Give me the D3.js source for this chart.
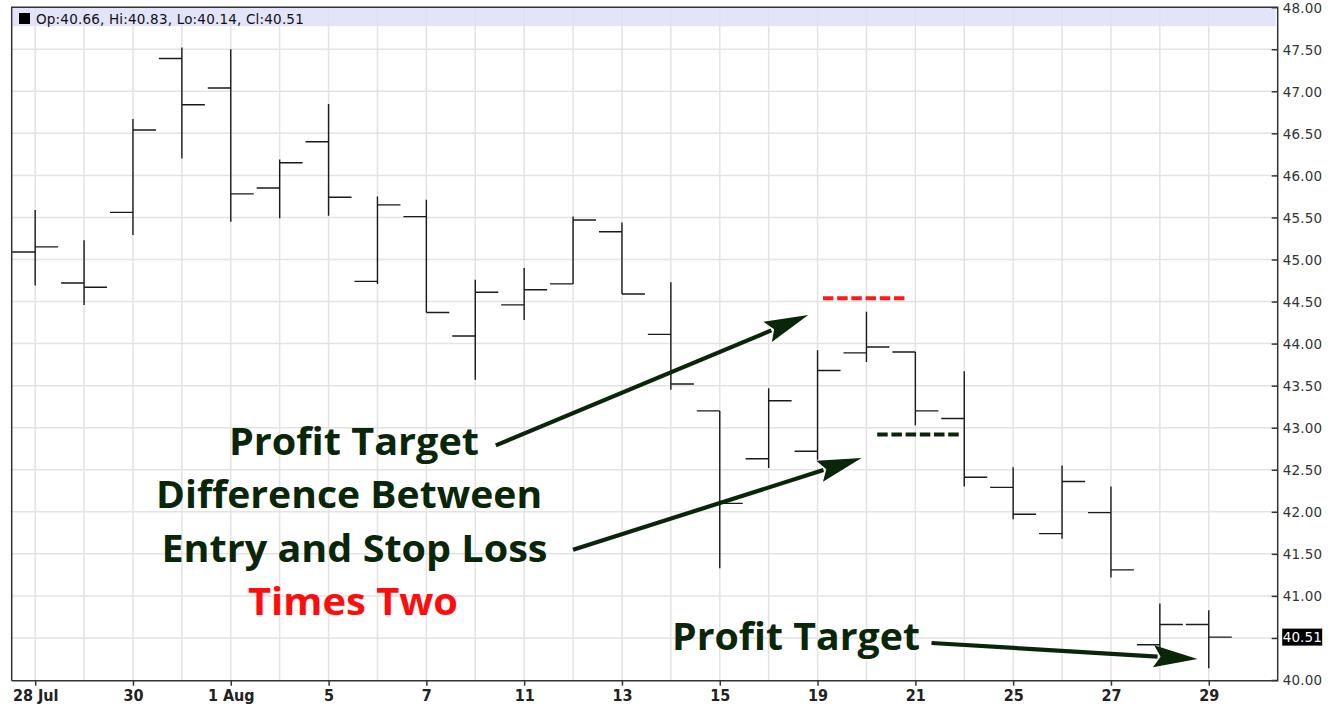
<html>
<head>
<meta charset="utf-8">
<script src="https://d3js.org/d3.v7.min.js"></script>
<style>
  body { margin: 0; background: #fff; }
</style>
</head>
<body>
<svg id="svg" width="1329" height="706"></svg>
<script>
'use strict';

// trading days, 28 Jul .. 29 Aug
const days = ['28 Jul', '29', '30', '31', '1 Aug', '4', '5', '6', '7', '8', '11', '12', '13',
  '14', '15', '18', '19', '20', '21', '22', '25', '26', '27', '28', '29'];
const opens = [45.09, 44.72, 45.56, 47.39, 47.04, 45.85, 46.40, 44.74, 45.51, 44.09, 44.46, 44.71, 45.33,
  44.11, 43.20, 42.63, 42.72, 43.89, 43.90, 43.11, 42.29, 41.74, 41.99, 40.42, 40.66];
const highs = [45.59, 45.23, 46.67, 47.52, 47.50, 46.19, 46.85, 45.75, 45.71, 44.76, 44.90, 45.51, 45.44,
  44.73, 43.20, 43.47, 43.92, 44.38, 43.90, 43.67, 42.53, 42.55, 42.30, 40.91, 40.83];
const lows = [44.69, 44.46, 45.29, 46.20, 45.45, 45.49, 45.52, 44.71, 44.37, 43.57, 44.28, 44.71, 44.59,
  43.45, 41.33, 42.52, 42.62, 43.78, 43.03, 42.30, 41.91, 41.68, 41.22, 40.36, 40.14];
const closes = [45.15, 44.67, 46.54, 46.84, 45.78, 46.15, 45.74, 45.65, 44.37, 44.61, 44.64, 45.47, 44.59,
  43.52, 42.10, 43.32, 43.68, 43.96, 43.20, 42.41, 41.97, 42.36, 41.31, 40.66, 40.51];
const priceTicks = [40, 40.5, 41, 41.5, 42, 42.5, 43, 43.5, 44, 44.5, 45, 45.5, 46, 46.5, 47, 47.5, 48];
const lastPrice = 40.51;

// annotations, in (day index, price)
const dashLevels = [
  {from: 16.11, to: 17.83, price: 44.54, color: '#ff1a1a'},
  {from: 17.22, to: 18.93, price: 42.92, color: '#0a2608'}
];
const arrows = [
  {x1: 9.42, y1: 42.79, x2: 15.81, y2: 44.34},
  {x1: 11.00, y1: 41.55, x2: 16.90, y2: 42.64},
  {x1: 18.33, y1: 40.44, x2: 23.77, y2: 40.25}
];
const notes = [
  {text: 'Profit Target', x: 6.52, y: 42.675, w: 250, color: '#0a2608'},
  {text: 'Difference Between', x: 6.42, y: 42.045, w: 386, color: '#0a2608'},
  {text: 'Entry and Stop Loss', x: 6.53, y: 41.403, w: 386, color: '#0a2608'},
  {text: 'Times Two', x: 6.50, y: 40.773, w: 210, color: '#ff0d0d'},
  {text: 'Profit Target', x: 15.56, y: 40.357, w: 248, color: '#0a2608'}
];

const plotLeft = 11.7, plotRight = 1277.7, plotTop = 7.2, plotBottom = 680.7;
const svg = d3.select('#svg');

const x = d3.scaleLinear().domain([-0.48, 25.41]).range([plotLeft, plotRight]);
const y = d3.scaleLinear().domain([40, 48]).range([680, 7.2]);
const idx = d3.range(days.length);

// grid
const grid = svg.append('g').attr('stroke', '#e3e3e3').attr('stroke-width', 1.5);
grid.selectAll('line.h').data(priceTicks.slice(1, -1)).join('line').attr('class', 'h')
  .attr('x1', plotLeft).attr('x2', plotRight)
  .attr('y1', d => y(d)).attr('y2', d => y(d));
grid.selectAll('line.v').data(idx).join('line').attr('class', 'v')
  .attr('x1', d => x(d)).attr('x2', d => x(d))
  .attr('y1', plotTop).attr('y2', plotBottom);

// header band
svg.append('rect').attr('x', plotLeft + 1).attr('y', plotTop + 0.5)
  .attr('width', plotRight - plotLeft - 3).attr('height', 18.5)
  .attr('fill', '#dedef9').attr('opacity', 0.85);
svg.append('rect').attr('x', 19).attr('y', 13).attr('width', 11).attr('height', 11).attr('fill', '#000');
svg.append('text').attr('x', 36).attr('y', 23.5)
  .attr('font-family', 'DejaVu Sans').attr('font-size', 13.5).attr('letter-spacing', 0.2)
  .attr('fill', '#111')
  .text(`Op:${opens[24].toFixed(2)}, Hi:${highs[24].toFixed(2)}, Lo:${lows[24].toFixed(2)}, Cl:${closes[24].toFixed(2)}`);

// frame
svg.append('path')
  .attr('d', `M${plotLeft},${plotBottom}V${plotTop}H${plotRight}V${plotBottom}H${plotLeft}`)
  .attr('fill', 'none').attr('stroke', '#333').attr('stroke-width', 1.5);

// right axis
const yAxis = d3.axisRight(y).tickValues(priceTicks).tickSize(0).tickPadding(5)
  .tickFormat(d => d.toFixed(2));
const ya = svg.append('g').attr('transform', `translate(${plotRight},0)`).call(yAxis);
ya.select('.domain').remove();
ya.selectAll('text').attr('font-family', 'DejaVu Sans').attr('font-size', 13.5)
  .attr('letter-spacing', 0.2).attr('fill', '#333').attr('dy', '0.36em');
ya.selectAll('.tick').append('line').attr('x1', -6).attr('x2', 0)
  .attr('stroke', '#333').attr('stroke-width', 1.5);

// last price marker
const lp = svg.append('g').attr('transform', `translate(${plotRight + 4.5},${y(lastPrice)})`);
lp.append('rect').attr('x', 0).attr('y', -8.5).attr('width', 40).attr('height', 17).attr('fill', '#000');
lp.append('text').attr('x', 0.5).attr('y', 0).attr('dy', '0.37em')
  .attr('font-family', 'DejaVu Sans').attr('font-size', 13.5).attr('letter-spacing', 0.1)
  .attr('fill', '#fff').text(lastPrice.toFixed(2));

// bottom axis
const xAxis = d3.axisBottom(x).tickValues(idx.filter(i => i % 2 === 0))
  .tickFormat(i => days[i]).tickSize(5).tickPadding(4);
const xa = svg.append('g').attr('transform', `translate(0,${plotBottom})`).call(xAxis);
xa.select('.domain').remove();
xa.selectAll('.tick line').attr('stroke', '#333').attr('stroke-width', 1.5);
xa.selectAll('text')
  .attr('font-family', '"Liberation Sans Narrow", "DejaVu Sans Condensed", sans-serif')
  .attr('font-stretch', 'condensed').attr('font-weight', 'bold').attr('font-size', 16)
  .attr('fill', '#222');

// OHLC bars
const half = x(0.47) - x(0);
const bars = svg.append('g').attr('stroke', '#1a1a1a').attr('stroke-width', 1.4).attr('fill', 'none');
bars.selectAll('path').data(idx).join('path')
  .attr('d', i => `M${x(i)},${y(highs[i])}V${y(lows[i])}` +
    `M${x(i) - half},${y(opens[i])}H${x(i)}` +
    `M${x(i)},${y(closes[i])}H${x(i) + half}`);

// dashed levels
svg.append('g').selectAll('line').data(dashLevels).join('line')
  .attr('x1', d => x(d.from)).attr('x2', d => x(d.to))
  .attr('y1', d => y(d.price)).attr('y2', d => y(d.price))
  .attr('stroke', d => d.color).attr('stroke-width', 4)
  .attr('stroke-dasharray', '10.5,3.7');

// arrows
const ag = svg.append('g').attr('fill', '#0a2608').attr('stroke', '#0a2608');
arrows.forEach(a => {
  const x1 = x(a.x1), y1 = y(a.y1), x2 = x(a.x2), y2 = y(a.y2);
  const ang = Math.atan2(y2 - y1, x2 - x1);
  const hl = 44, hw = 11;
  const bx = x2 - hl * Math.cos(ang), by = y2 - hl * Math.sin(ang);
  ag.append('line').attr('x1', x1).attr('y1', y1).attr('x2', bx + 4 * Math.cos(ang)).attr('y2', by + 4 * Math.sin(ang))
    .attr('stroke-width', 4.2);
  const px = -Math.sin(ang), py = Math.cos(ang);
  ag.append('path').attr('stroke', 'none')
    .attr('d', `M${x2},${y2}L${bx + hw * px},${by + hw * py}L${bx + 7 * Math.cos(ang)},${by + 7 * Math.sin(ang)}L${bx - hw * px},${by - hw * py}Z`);
});

// text notes
svg.append('g').selectAll('text').data(notes).join('text')
  .attr('x', d => x(d.x)).attr('y', d => y(d.y))
  .attr('text-anchor', 'middle')
  .attr('font-family', '"Open Sans", Lato, sans-serif').attr('font-weight', 700)
  .attr('font-size', 37).attr('fill', d => d.color)
  .attr('textLength', d => d.w).attr('lengthAdjust', 'spacingAndGlyphs')
  .text(d => d.text);
</script>
</body>
</html>
